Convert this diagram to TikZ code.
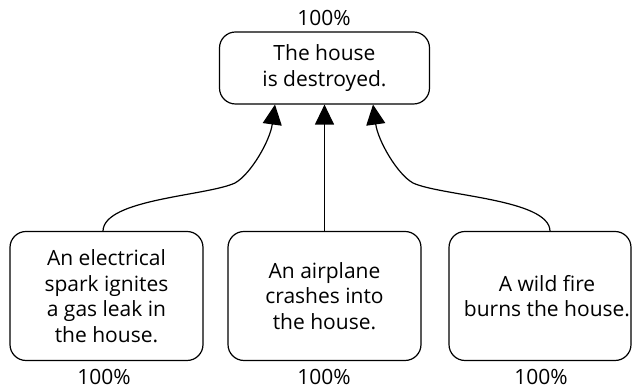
\documentclass[tikz,border=0pt]{standalone}
\usepackage{fontspec}
\setmainfont{Open Sans}
\usetikzlibrary{arrows.meta}

\begin{document}
\begin{tikzpicture}[
            x=1pt, y=1pt,
            every node/.style={font=\fontsize{21}{25.5}\selectfont},
            event/.style={rectangle, draw, line width=1.2pt, rounded corners=16pt, align=center, inner sep=0pt},
            topnode/.style={event, minimum width=210pt, minimum height=72pt},
            causenode/.style={event, minimum width=193pt, minimum height=129pt},
            txt/.style={align=center, inner sep=0pt},
            prob/.style={inner sep=0pt},
            arrow/.style={-{Triangle[length=20pt,width=19pt]}, line width=1.2pt}
        ]
        \useasboundingbox (0,0) rectangle (632,390);

        % Effect on top, the three causes below
        \node[topnode] (house) at (324.5,322) {The house\\is destroyed.};

        \node[causenode] (spark) at (106.5,94) {An electrical\\spark ignites\\a gas leak in\\the house.};
        \node[causenode] (plane) at (324.5,94) {An airplane\\crashes into\\the house.};
        \node[causenode, minimum width=182pt] (fire) at (540,94) {};
        \node[txt] (fire_txt) at (547,94) {A wild fire\\burns the house.};

        % Probabilities
        \node[prob] (p_house) at (324,372) {100\%};
        \node[prob] (p_spark) at (104,13) {100\%};
        \node[prob] (p_plane) at (324,13) {100\%};
        \node[prob] (p_fire) at (541,13) {100\%};

        % Bends of the two side connectors
        \coordinate (spark_bend) at (235,207);
        \coordinate (fire_bend) at (413,207);

        % === EDGES ===
        \draw[arrow] ([xshift=-3.5pt]spark.north) .. controls +(1,32) and +(-28,-13) .. (spark_bend)
            .. controls +(16,9) and +(-5,-36) .. ([xshift=-49.5pt]house.south);
        \draw[arrow] (plane.north) -- (house.south);
        \draw[arrow] ([xshift=10pt]fire.north) .. controls +(-1,32) and +(28,-13) .. (fire_bend)
            .. controls +(-16,9) and +(5,-36) .. ([xshift=48.5pt]house.south);

    \end{tikzpicture}
\end{document}
